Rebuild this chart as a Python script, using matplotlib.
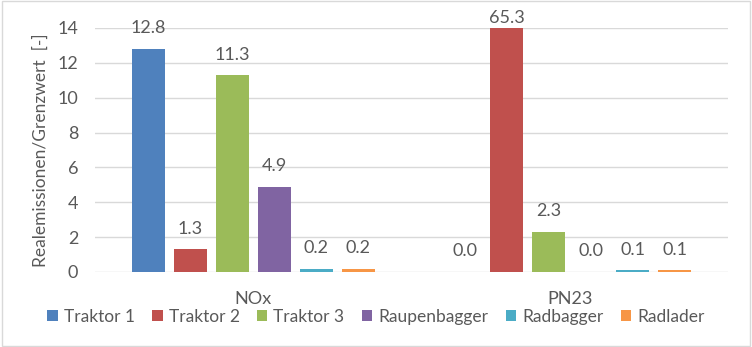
import matplotlib
matplotlib.use("Agg")
import matplotlib.pyplot as plt
import numpy as np
from matplotlib.patches import Rectangle

categories = ["NOx", "PN23"]
series = ["Traktor 1", "Traktor 2", "Traktor 3", "Raupenbagger", "Radbagger", "Radlader"]
values = {
    "Traktor 1": [12.8, 0.0],
    "Traktor 2": [1.3, 65.3],
    "Traktor 3": [11.3, 2.3],
    "Raupenbagger": [4.9, 0.0],
    "Radbagger": [0.2, 0.1],
    "Radlader": [0.2, 0.1],
}
colors = ["#4F81BD", "#C0504D", "#9BBB59", "#8064A2", "#4BACC6", "#F79646"]
yticks = [0, 2, 4, 6, 8, 10, 12, 14]

plt.rcParams['font.family'] = ['Lato', 'DejaVu Sans']
txt = "#595959"
fs = 13

fig = plt.figure(figsize=(7.52, 3.47), dpi=100)
ax = fig.add_axes([95/752, 1-272/347, (728-95)/752, (272-28)/347])

ymax = 14
x = np.arange(len(categories))
n = len(series)
step = 42/316.5
width = 33/316.5
for i, (s, c) in enumerate(zip(series, colors)):
    pos = x + (i - (n-1)/2) * step
    vals = values[s]
    ax.bar(pos, vals, width=width, color=c, label=s, zorder=3)
    for p, v in zip(pos, vals):
        off = 9 if v <= ymax else 1.5
        ax.annotate(f"{v:.1f}", (p, min(v, ymax)), xytext=(0, off), textcoords="offset points",
                    ha="center", va="bottom", fontsize=fs, color=txt, annotation_clip=False)

ax.set_xlim(-0.5, len(categories)-0.5)
ax.set_ylim(0, ymax)
ax.set_yticks(yticks)
ax.set_yticklabels([str(t) for t in yticks])
ax.set_xticks(x)
ax.set_xticklabels(categories)
ax.tick_params(axis='both', length=0, labelsize=fs, colors=txt)
ax.tick_params(axis='y', pad=12)
ax.tick_params(axis='x', pad=14)
ax.grid(axis='y', color="#D9D9D9", linewidth=1, zorder=0)
for sp in ax.spines.values():
    sp.set_visible(False)
ax.set_ylabel("Realemissionen/Grenzwert  [-]", fontsize=12.5, color=txt, labelpad=6)

leg = fig.legend(loc="center", bbox_to_anchor=(0.5, 1-317/347), ncol=6, frameon=False,
                 fontsize=12.5, handlelength=0.6, handleheight=0.6, handletextpad=0.35,
                 columnspacing=1.0, labelcolor=txt)

fig.patches.append(Rectangle((0.002, 0.003), 0.996, 0.994, transform=fig.transFigure,
                             fill=False, edgecolor="#D9D9D9", linewidth=1))
fig.savefig("out.png", dpi=100)
